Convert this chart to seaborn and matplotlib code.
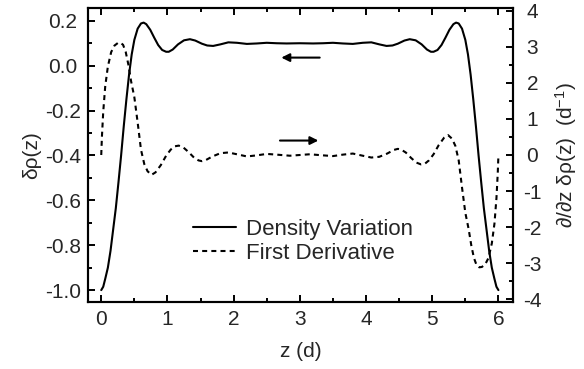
"""Density variation and its first derivative across a slab."""

import matplotlib

matplotlib.use("Agg")
import matplotlib.pyplot as plt
import seaborn as sns

# Density variation
density_z = [
    0.00, 0.03, 0.06, 0.10, 0.14, 0.18, 0.22, 0.26, 0.30, 0.34, 0.38, 0.42,
    0.46, 0.50, 0.55, 0.60, 0.64, 0.68, 0.74, 0.80, 0.86, 0.92, 0.98, 1.02,
    1.08, 1.16, 1.25, 1.34, 1.42, 1.52, 1.60, 1.69, 1.80, 1.92, 2.05, 2.20,
    2.35, 2.50, 2.65, 2.80, 3.00, 3.20, 3.35, 3.50, 3.65, 3.80, 3.95, 4.08,
    4.20, 4.31, 4.40, 4.48, 4.58, 4.66, 4.75, 4.84, 4.92, 4.98, 5.02, 5.08,
    5.14, 5.20, 5.26, 5.32, 5.36, 5.40, 5.45, 5.50, 5.54, 5.58, 5.62, 5.66,
    5.70, 5.74, 5.78, 5.82, 5.86, 5.90, 5.94, 5.97, 6.00,
]
density_val = [
    -1.000, -0.985, -0.950, -0.900, -0.825, -0.730, -0.635, -0.520, -0.400,
    -0.270, -0.150, -0.040, 0.050, 0.115, 0.165, 0.188, 0.192, 0.185, 0.160,
    0.125, 0.092, 0.070, 0.062, 0.062, 0.072, 0.095, 0.113, 0.118, 0.112,
    0.098, 0.090, 0.088, 0.095, 0.104, 0.102, 0.097, 0.099, 0.102, 0.100,
    0.099, 0.100, 0.099, 0.100, 0.102, 0.099, 0.097, 0.102, 0.104, 0.095,
    0.088, 0.090, 0.098, 0.112, 0.118, 0.113, 0.095, 0.072, 0.062, 0.062,
    0.070, 0.092, 0.125, 0.160, 0.185, 0.192, 0.188, 0.165, 0.115, 0.050,
    -0.040, -0.150, -0.270, -0.400, -0.520, -0.635, -0.730, -0.825, -0.900,
    -0.950, -0.985, -1.000,
]

# First derivative (right axis, 1/d)
deriv_z = [
    0.00, 0.01, 0.03, 0.06, 0.10, 0.15, 0.20, 0.25, 0.29, 0.33, 0.37, 0.41,
    0.45, 0.50, 0.55, 0.60, 0.65, 0.70, 0.76, 0.82, 0.90, 0.98, 1.05, 1.11,
    1.17, 1.24, 1.32, 1.40, 1.47, 1.52, 1.58, 1.68, 1.80, 1.92, 2.05, 2.20,
    2.35, 2.50, 2.65, 2.85, 3.00, 3.15, 3.35, 3.50, 3.65, 3.80, 3.95, 4.08,
    4.20, 4.32, 4.42, 4.48, 4.53, 4.60, 4.68, 4.76, 4.83, 4.89, 4.95, 5.02,
    5.10, 5.18, 5.24, 5.30, 5.35, 5.40, 5.45, 5.50, 5.55, 5.59, 5.63, 5.67,
    5.71, 5.75, 5.80, 5.85, 5.90, 5.94, 5.97, 5.99, 6.00,
]
deriv_val = [
    0.00, 0.50, 1.20, 1.90, 2.45, 2.85, 3.03, 3.10, 3.11, 3.05, 2.85, 2.50,
    2.05, 1.60, 0.90, 0.15, -0.25, -0.45, -0.55, -0.48, -0.28, -0.02, 0.15,
    0.24, 0.26, 0.21, 0.08, -0.07, -0.15, -0.17, -0.14, -0.04, 0.05, 0.07,
    0.02, -0.04, -0.01, 0.03, 0.01, -0.02, 0.00, 0.02, -0.01, -0.03, 0.01,
    0.04, -0.02, -0.07, -0.05, 0.04, 0.14, 0.17, 0.15, 0.07, -0.08, -0.21,
    -0.26, -0.24, -0.15, 0.02, 0.28, 0.48, 0.55, 0.45, 0.25, -0.15, -0.90,
    -1.60, -2.05, -2.50, -2.85, -3.05, -3.11, -3.10, -3.03, -2.85, -2.45,
    -1.90, -1.20, -0.50, 0.00,
]

x_ticks = [0, 1, 2, 3, 4, 5, 6]
left_ticks = [0.2, 0.0, -0.2, -0.4, -0.6, -0.8, -1.0]
right_ticks = [4, 3, 2, 1, 0, -1, -2, -3, -4]

sns.set_theme(style="ticks")
plt.rcParams["font.family"] = ["Liberation Sans", "DejaVu Sans"]
plt.rcParams["mathtext.fontset"] = "custom"
plt.rcParams["mathtext.rm"] = "Liberation Sans"
plt.rcParams["mathtext.it"] = "Liberation Sans"
plt.rcParams["axes.unicode_minus"] = False

FONT_SIZE = 15
LEGEND_SIZE = 16
INK = "black"

fig = plt.figure(figsize=(5.84, 3.69), dpi=100)
axis = fig.add_axes([0.1507, 0.1816, 0.7277, 0.7967])
twin = axis.twinx()

sns.lineplot(x=density_z, y=density_val, ax=axis, color=INK, linewidth=1.5,
             label="Density Variation", sort=False, legend=False)
sns.lineplot(x=deriv_z, y=deriv_val, ax=twin, color=INK, linewidth=1.5,
             label="First Derivative", sort=False, legend=False)
twin.lines[0].set_dashes((2.4, 2.0))

axis.set_xlim(-0.2, 6.22)
axis.set_ylim(-1.053, 0.257)
twin.set_ylim(-4.07, 4.07)

axis.set_xticks(x_ticks)
axis.set_xticks([v + 0.5 for v in x_ticks[:-1]], minor=True)
axis.set_yticks(left_ticks)
axis.set_yticklabels([f"{v:.1f}" for v in left_ticks])
axis.set_yticks([v / 10 for v in range(-10, 3)], minor=True)
twin.set_yticks(right_ticks)
twin.set_yticks([v / 2 for v in range(-8, 9)], minor=True)

for ax in (axis, twin):
    for spine in ax.spines.values():
        spine.set_linewidth(1.5)
        spine.set_color(INK)
    ax.tick_params(which="major", direction="in", length=5, width=1.4,
                   labelsize=FONT_SIZE, color=INK)
    ax.tick_params(which="minor", direction="in", length=3, width=1.4,
                   color=INK)
axis.tick_params(axis="x", which="both", top=True, pad=6)
# tick labels on the y axes are centred, as in the original
axis.tick_params(axis="y", pad=18)
twin.tick_params(axis="y", pad=14)
for label in axis.get_yticklabels():
    label.set_horizontalalignment("center")
for label in twin.get_yticklabels():
    label.set_horizontalalignment("center")
axis.set_xlim(-0.2, 6.22)

axis.set_xlabel("z (d)", fontsize=FONT_SIZE, labelpad=9)
axis.set_ylabel("δρ(z)", fontsize=FONT_SIZE, labelpad=3)
twin.set_ylabel("∂/∂z δρ(z)  (d$^{-1}$)", fontsize=FONT_SIZE, labelpad=8)

# arrows pointing to the relevant axis
arrow_style = dict(arrowstyle="-|>", color=INK, lw=1.5,
                   mutation_scale=12, shrinkA=0, shrinkB=0)
axis.annotate("", xy=(2.72, 0.036), xytext=(3.3, 0.036), arrowprops=arrow_style)
twin.annotate("", xy=(3.28, 0.4), xytext=(2.7, 0.4), arrowprops=arrow_style)

handles = axis.lines[:1] + twin.lines[:1]
axis.legend(handles, ["Density Variation", "First Derivative"],
            loc="center left", bbox_to_anchor=(0.247, 0.206), frameon=False,
            fontsize=LEGEND_SIZE, borderpad=0, borderaxespad=0,
            handlelength=1.95, handletextpad=0.45, labelspacing=0.15)

fig.savefig("out.png", dpi=100)
